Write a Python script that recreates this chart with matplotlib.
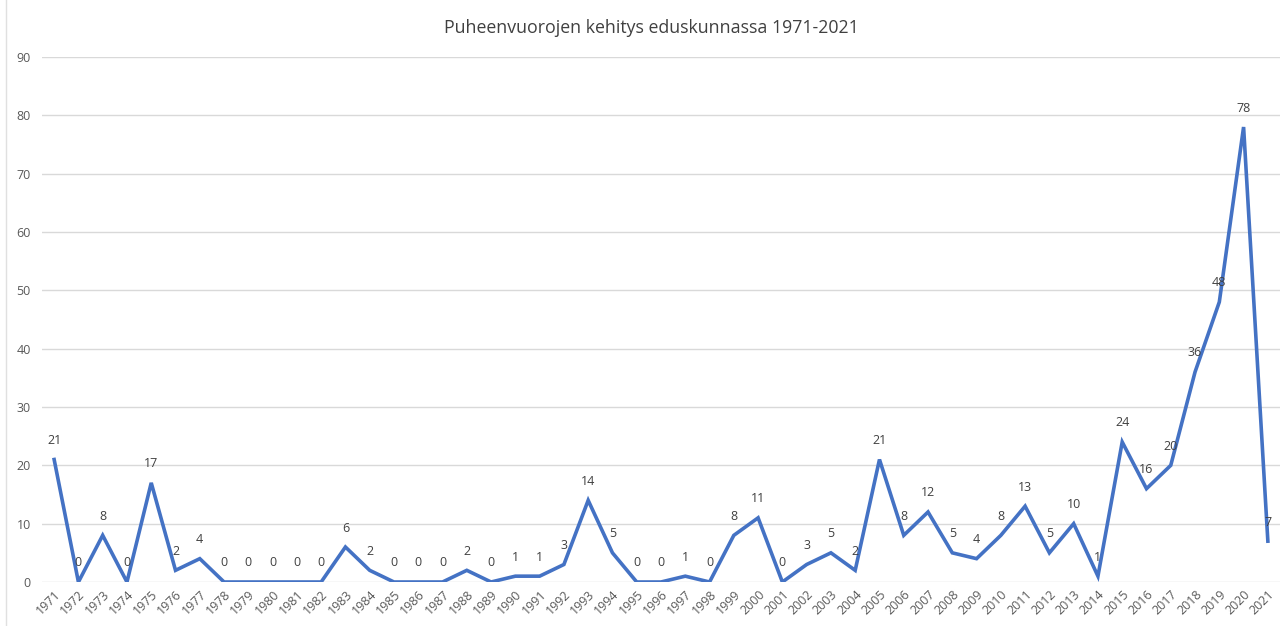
import matplotlib
matplotlib.use("Agg")
import matplotlib.pyplot as plt
from matplotlib.lines import Line2D

years = [str(y) for y in range(1971, 2022)]
values = [21, 0, 8, 0, 17, 2, 4, 0, 0, 0, 0, 0, 6, 2, 0, 0, 0, 2, 0, 1,
          1, 3, 14, 5, 0, 0, 1, 0, 8, 11, 0, 3, 5, 2, 21, 8, 12, 5, 4, 8,
          13, 5, 10, 1, 24, 16, 20, 36, 48, 78, 7]
yticks = [0, 10, 20, 30, 40, 50, 60, 70, 80, 90]

plt.rcParams['font.family'] = ['Open Sans', 'DejaVu Sans']

fig = plt.figure(figsize=(12.88, 6.26), dpi=100)
ax = fig.add_axes([42/1288, 1 - 582/626, (1280 - 42)/1288, (582 - 57)/626])

x = list(range(len(years)))
ax.plot(x, values, color='#4472C4', linewidth=2.6, solid_joinstyle='miter', zorder=3)
for xi, v in zip(x, values):
    ax.annotate(str(v), (xi, v), xytext=(0, 9), textcoords='offset points',
                ha='center', va='bottom', fontsize=9, color='#404040', zorder=4)

ax.set_xlim(-0.5, len(years) - 0.5)
ax.set_ylim(0, 90)
ax.set_yticks(yticks)
ax.set_xticks(x)
ax.set_xticklabels(years, rotation=45, ha='right', rotation_mode='anchor')
ax.tick_params(axis='x', length=0, labelsize=9, labelcolor='#595959', pad=4)
ax.tick_params(axis='y', length=0, labelsize=9, labelcolor='#595959', pad=8)
ax.grid(axis='y', color='#D9D9D9', linewidth=1)
ax.set_axisbelow(True)
for s in ax.spines.values():
    s.set_visible(False)

fig.text(651/1288, 1 - 28/626, 'Puheenvuorojen kehitys eduskunnassa 1971-2021',
         ha='center', va='center', fontsize=12.8, color='#404040')

fig.add_artist(Line2D([6/1288, 6/1288], [0, 1], transform=fig.transFigure,
                      color='#E0E0E0', linewidth=1))

fig.savefig('out.png', dpi=100)
